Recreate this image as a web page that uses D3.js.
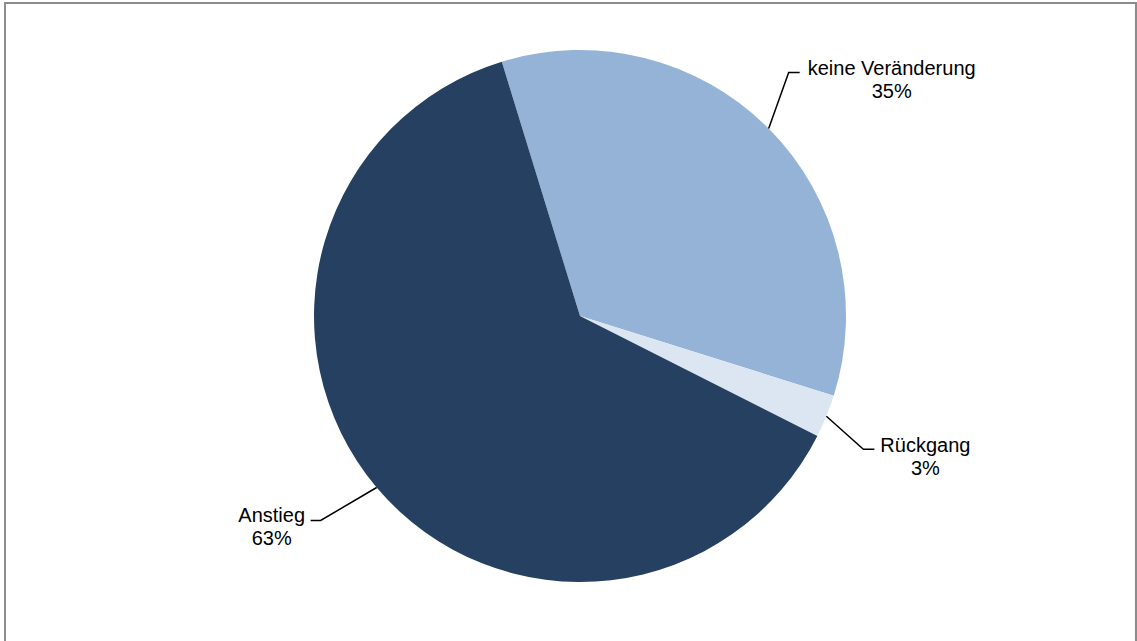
<!DOCTYPE html>
<html>
<head>
<meta charset="utf-8">
<script src="https://cdn.jsdelivr.net/npm/d3@7"></script>
<style>
  html, body { margin: 0; padding: 0; background: #fff; }
  svg { display: block; }
</style>
</head>
<body>
<svg id="chart" width="1137" height="641"></svg>
<script>
// Data
const categories = ["keine Veränderung", "Rückgang", "Anstieg"];
const values = [34.6, 2.6, 62.8];
const colors = ["#95B3D7", "#DCE6F2", "#264061"];

const W = 1137, H = 641;
const svg = d3.select("#chart");

// Chart border
svg.append("rect")
  .attr("x", 5).attr("y", 3)
  .attr("width", 1131).attr("height", 660)
  .attr("fill", "none")
  .attr("stroke", "#8c8c8c")
  .attr("stroke-width", 2);

const cx = 580, cy = 316, r = 266;
const startAngle = -17.1 * Math.PI / 180;

const pie = d3.pie().sort(null).value(d => d.value)
  .startAngle(startAngle).endAngle(startAngle + 2 * Math.PI);
const data = categories.map((c, i) => ({ name: c, value: values[i], color: colors[i] }));
const arcs = pie(data);
const arc = d3.arc().innerRadius(0).outerRadius(r);

const g = svg.append("g").attr("transform", `translate(${cx},${cy})`);
g.selectAll("path").data(arcs).enter().append("path")
  .attr("d", arc)
  .attr("fill", d => d.data.color);

// Label layout (offsets of elbow from the slice edge midpoint, and label side)
const labelLayout = {
  "keine Veränderung": { dx: 20, dy: -56, hx: 11, tx: 103, ty: 2 },
  "Rückgang": { dx: 37, dy: 33, hx: 11, tx: 62, ty: 3 },
  "Anstieg": { dx: -56, dy: 33, hx: -10, tx: -49, ty: 2 }
};

const total = d3.sum(values);
arcs.forEach(a => {
  const mid = (a.startAngle + a.endAngle) / 2;
  const sx = r * Math.sin(mid), sy = -r * Math.cos(mid);
  const L = labelLayout[a.data.name];
  const ex = sx + L.dx, ey = sy + L.dy;
  const hx = ex + L.hx;
  g.append("path")
    .attr("d", `M${sx},${sy}L${ex},${ey}L${hx},${ey}`)
    .attr("fill", "none")
    .attr("stroke", "#000")
    .attr("stroke-width", 1.5);
  const t = g.append("text")
    .attr("x", ex + L.tx)
    .attr("y", ey + L.ty)
    .attr("text-anchor", "middle")
    .attr("font-family", "Liberation Sans, Arial, sans-serif")
    .attr("font-size", 20)
    .attr("fill", "#000");
  t.append("tspan").attr("x", ex + L.tx).text(a.data.name);
  t.append("tspan").attr("x", ex + L.tx).attr("dy", 23)
    .text(Math.round(a.data.value / total * 100) + "%");
});
</script>
</body>
</html>
